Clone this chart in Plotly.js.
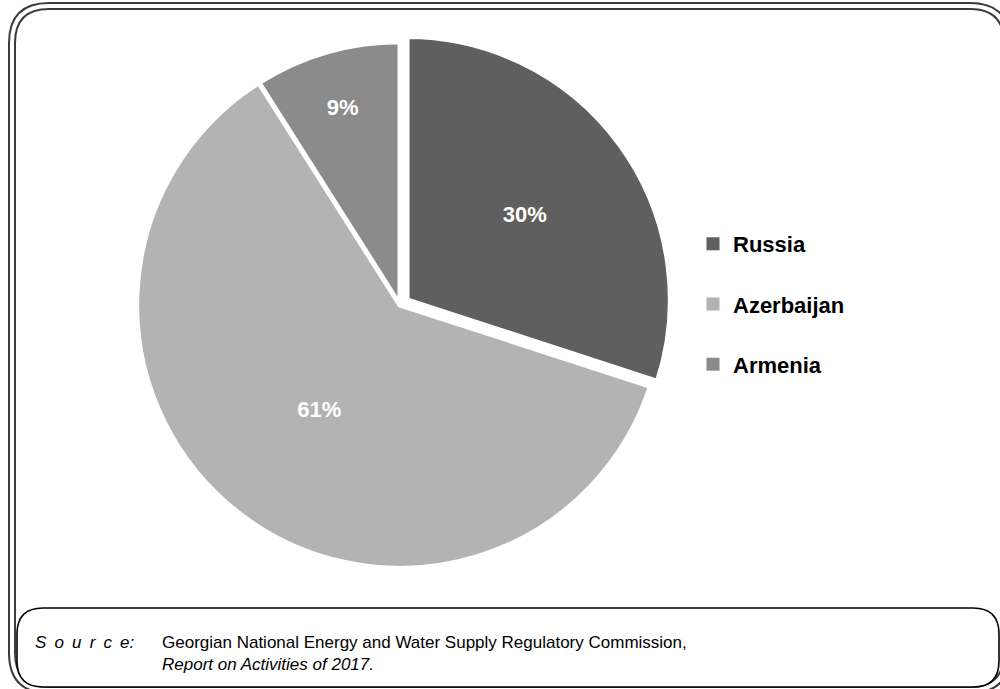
<!DOCTYPE html>
<html>
<head>
<meta charset="utf-8">
<script src="https://cdn.plot.ly/plotly-3.0.1.min.js"></script>
<style>
html,body{margin:0;padding:0;background:#fff;}
#chart{width:1000px;height:689px;}
</style>
</head>
<body>
<div id="chart"></div>
<script>
// ---- data ----
var countries = ['Russia', 'Azerbaijan', 'Armenia'];
var shares = [30, 61, 9];
var sliceColors = ['#5f5f5f', '#b3b3b3', '#8b8b8b'];
var pulls = [0.033, 0, 0];
var sourceLabel = 'S\u2009 o\u2009 u\u2009 r\u2009 c\u2009 e:';
var sourceLine1 = 'Georgian National Energy and Water Supply Regulatory Commission,';
var sourceLine2 = 'Report on Activities of 2017.';

// ---- helpers for decoration (pixel -> paper, margins are zero) ----
var W = 1000, H = 689;
function px(x){ return (x / W).toFixed(5); }
function py(y){ return (1 - y / H).toFixed(5); }
function roundRect(x0, y0, x1, y1, r){
  return 'M' + px(x0 + r) + ',' + py(y0) +
    ' L' + px(x1 - r) + ',' + py(y0) +
    ' Q' + px(x1) + ',' + py(y0) + ' ' + px(x1) + ',' + py(y0 + r) +
    ' L' + px(x1) + ',' + py(y1 - r) +
    ' Q' + px(x1) + ',' + py(y1) + ' ' + px(x1 - r) + ',' + py(y1) +
    ' L' + px(x0 + r) + ',' + py(y1) +
    ' Q' + px(x0) + ',' + py(y1) + ' ' + px(x0) + ',' + py(y1 - r) +
    ' L' + px(x0) + ',' + py(y0 + r) +
    ' Q' + px(x0) + ',' + py(y0) + ' ' + px(x0 + r) + ',' + py(y0) + ' Z';
}

var trace = {
  type: 'pie',
  labels: countries.map(function(c){ return c + '<br> '; }),
  values: shares,
  sort: false,
  direction: 'clockwise',
  rotation: 0,
  pull: pulls,
  marker: {colors: sliceColors, line: {color: '#ffffff', width: 5}},
  textinfo: 'percent',
  textposition: 'inside',
  insidetextorientation: 'horizontal',
  insidetextfont: {family: 'Liberation Sans, Arial, sans-serif', size: 22, color: '#ffffff', weight: 'bold'},
  hoverinfo: 'label+percent',
  domain: {x: [0.128, 0.672], y: [1 - 578/689, 1 - 32/689]}
};

var srcFont = {family: 'Liberation Sans Narrow, Arial Narrow, Liberation Sans, sans-serif', size: 17, color: '#000'};

var layout = {
  width: W, height: H,
  margin: {l: 0, r: 0, t: 0, b: 0},
  paper_bgcolor: '#ffffff',
  plot_bgcolor: '#ffffff',
  showlegend: true,
  legend: {
    x: 0.693, xanchor: 'left',
    y: 1 - 223/689, yanchor: 'top',
    valign: 'top',
    bgcolor: 'rgba(0,0,0,0)',
    font: {family: 'Liberation Sans, Arial, sans-serif', size: 22, color: '#000000', weight: 'bold'}
  },
  shapes: [
    {type: 'path', xref: 'paper', yref: 'paper', path: roundRect(9, 3, 1010, 693, 40), line: {color: '#3c3c3c', width: 2}},
    {type: 'path', xref: 'paper', yref: 'paper', path: roundRect(15, 9, 1004, 687, 34), line: {color: '#3c3c3c', width: 2}},
    {type: 'path', xref: 'paper', yref: 'paper', path: roundRect(17, 608, 999, 687, 26), line: {color: '#000000', width: 1.6}, fillcolor: '#ffffff'}
  ],
  annotations: [
    {xref: 'paper', yref: 'paper', x: 33/W, y: 1 - 642/H, xanchor: 'left', yanchor: 'middle', showarrow: false,
     text: '<i>' + sourceLabel + '</i>', font: srcFont},
    {xref: 'paper', yref: 'paper', x: 160/W, y: 1 - 642/H, xanchor: 'left', yanchor: 'middle', showarrow: false,
     text: sourceLine1, font: srcFont},
    {xref: 'paper', yref: 'paper', x: 160/W, y: 1 - 664/H, xanchor: 'left', yanchor: 'middle', showarrow: false,
     text: '<i>' + sourceLine2 + '</i>', font: srcFont}
  ]
};

Plotly.newPlot('chart', [trace], layout, {displayModeBar: false, staticPlot: true}).then(function(gd){
  // legend swatches: full square without the white slice border
  var sw = gd.querySelectorAll('path.legendpie');
  for (var i = 0; i < sw.length; i++) {
    sw[i].setAttribute('d', 'M6.5,6.5H-6.5V-6.5H6.5Z');
    sw[i].style.strokeWidth = '0px';
  }
});
</script>
</body>
</html>
